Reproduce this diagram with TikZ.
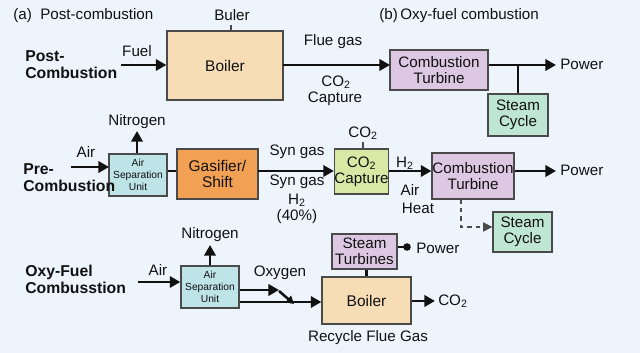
\documentclass[tikz,border=0pt]{standalone}
\usepackage{fontspec}
\setmainfont{Liberation Sans}
\usetikzlibrary{arrows.meta}
\definecolor{bgc}{HTML}{EEF4FC}
\definecolor{tanc}{HTML}{F7DDB6}
\definecolor{lavc}{HTML}{DDC8E3}
\definecolor{mintc}{HTML}{BFE5D3}
\definecolor{cyanc}{HTML}{BEE4E8}
\definecolor{orgc}{HTML}{F2A154}
\definecolor{grnc}{HTML}{D8E9A6}
\definecolor{edgec}{HTML}{4A4A4A}
\definecolor{inkc}{HTML}{111111}
\newcommand\cotwo{CO\textsubscript{2}}
\newcommand\htwo{H\textsubscript{2}}
\begin{document}
\begin{tikzpicture}[x=0.025cm,y=-0.025cm,
  font=\fontsize{10.8}{12}\selectfont, text=inkc,
  box/.style={draw=edgec, line width=0.9pt, inner sep=0pt, align=center,
    font=\fontsize{10.8}{11.4}\selectfont},
  smallbox/.style={box, font=\fontsize{7.3}{8.5}\selectfont},
  lbl/.style={inner sep=0pt, align=center},
  head/.style={inner sep=0pt, align=left, anchor=west, font=\fontsize{11.2}{12.1}\selectfont\bfseries},
  conn/.style={draw=inkc, line width=1.8pt, -{Triangle[length=7.5pt,width=8pt]}},
  plain/.style={draw=inkc, line width=1.8pt},
  tick/.style={draw=edgec, line width=1pt},
  dashconn/.style={draw=edgec, line width=0.9pt, dashed, -{Triangle[length=6.5pt,width=6.5pt]}}
]
\fill[bgc] (0,0) rectangle (640,353);
\useasboundingbox (0,0) rectangle (640,353);

% ---------- titles ----------
\node[lbl, anchor=west] (ta) at (13,16) {(a)\ \ Post-combustion};
\node[lbl, anchor=west] (tb) at (379,16) {(b)\,Oxy-fuel combustion};

% ---------- row 1 ----------
\node[head] (h1) at (25,65) {Post-\\Combustion};
\node[box, fill=tanc, minimum width=82.5pt, minimum height=49.1pt, font=\fontsize{11}{12}\selectfont] (boiler1) at (225,65.5) {Boiler};
\node[box, fill=lavc, minimum width=69.7pt, minimum height=28.5pt] (ct1) at (439,70) {Combustion\\Turbine};
\node[box, fill=mintc, minimum width=42.7pt, minimum height=29.9pt] (sc1) at (518,115) {Steam\\Cycle};
\node[lbl] (buler) at (232,15) {Buler};
\coordinate (bulerT) at (231,25);
\node[lbl] (fuel) at (137,51) {Fuel};
\coordinate (fuelS) at (121,65);
\coordinate (flueA) at (283,65);
\coordinate (flueB) at (390,65);
\coordinate (pow1T) at (556,65);
\coordinate (scJ) at (518,65);
\node[lbl] (flue) at (333,42) {Flue gas};
\node[lbl] (cap1a) at (336,82) {\cotwo};
\node[lbl] (cap1b) at (335,99) {Capture};
\node[lbl, anchor=west] (pow1) at (560,64) {Power};

\draw[tick] (boiler1.north -| bulerT) -- (bulerT);
\draw[conn] (fuelS) -- (boiler1.west |- fuelS);
\draw[conn] (flueA) -- (flueB);
\draw[conn] (flueA -| ct1.east) -- (pow1T);
\draw[plain] (scJ) -- (sc1.north);

% ---------- row 2 ----------
\node[smallbox, fill=cyanc, minimum width=41.3pt, minimum height=29.9pt] (asu2) at (138,175) {Air\\Separation\\Unit};
\node[head] (h2) at (23,178) {Pre-\\Combustion};
\node[box, fill=orgc, minimum width=57.6pt, minimum height=35.6pt, font=\fontsize{11}{11.6}\selectfont] (gas) at (217.5,174) {Gasifier/\\Shift};
\node[box, fill=grnc, minimum width=37.7pt, minimum height=32pt] (cap2) at (361.5,171.5) {\cotwo\\Capture};
\node[box, fill=lavc, minimum width=58.3pt, minimum height=32.7pt] (ct2) at (473,176) {Combustion\\Turbine};
\node[box, fill=mintc, minimum width=42pt, minimum height=28.5pt] (sc2) at (522.5,232) {Steam\\Cycle};

\node[lbl] (nit2) at (137,122) {Nitrogen};
\coordinate (nit2T) at (137,131);
\node[lbl] (air2) at (86,152) {Air};
\coordinate (air2S) at (71,167);
\coordinate (air2T) at (109,167);
\coordinate (syn) at (258,171);
\node[lbl] (syn1) at (297,152) {Syn gas};
\node[lbl] (syn2) at (297,182) {Syn gas};
\node[lbl] (h2a) at (297,200) {\htwo};
\node[lbl] (pct) at (297,217) {(40\%)};
\node[lbl] (co2top) at (363,133) {\cotwo};
\coordinate (co2tick) at (363,142);
\node[lbl] (h2b) at (405,163) {\htwo};
\node[lbl] (airh) at (410,190) {Air};
\node[lbl] (heat) at (418,208) {Heat};
\coordinate (pow2T) at (556,171);
\node[lbl, anchor=west] (pow2) at (560,170) {Power};
\coordinate (dashA) at (461,199);
\coordinate (dashB) at (461,227);

\draw[conn] (asu2.north -| nit2T) -- (nit2T);
\draw[conn] (air2S) -- (air2T);
\draw[plain] (asu2.east |- syn) -- (gas.west |- syn);
\draw[conn] (syn) -- (cap2.west |- syn);
\draw[tick] (cap2.north -| co2tick) -- (co2tick);
\draw[conn] (cap2.east |- syn) -- (ct2.west |- syn);
\draw[conn] (ct2.east |- syn) -- (pow2T);
\draw[dashconn] (ct2.south -| dashA) -- (dashB) -- (sc2.west |- dashB);

% ---------- row 3 ----------
\node[head] (h3) at (25,279) {Oxy-Fuel\\Combusstion};
\node[smallbox, fill=cyanc, minimum width=41.3pt, minimum height=29.9pt] (asu3) at (210,287) {Air\\Separation\\Unit};
\node[box, fill=tanc, minimum width=63.3pt, minimum height=33.4pt, font=\fontsize{11}{12}\selectfont] (boiler3) at (366.5,300.5) {Boiler};
\node[box, fill=lavc, minimum width=46.2pt, minimum height=24.9pt] (st) at (364.5,251.5) {Steam\\Turbines};

\node[lbl] (nit3) at (210,235) {Nitrogen};
\coordinate (nit3T) at (210,245);
\node[lbl] (air3) at (158,270) {Air};
\coordinate (air3S) at (138,282);
\node[lbl] (oxy) at (280,273) {Oxygen};
\coordinate (oxyT) at (279,290);
\coordinate (diagA) at (279,291);
\coordinate (diagB) at (294,304);
\coordinate (recy) at (239,302);
\coordinate (dot) at (407,247);
\node[lbl, anchor=west] (pow3) at (416,248) {Power};
\coordinate (co2T) at (435,301);
\node[lbl, anchor=west] (co2b) at (438,301) {\cotwo};
\node[lbl] (rfg) at (368,338) {Recycle Flue Gas};

\draw[conn] (asu3.north -| nit3T) -- (nit3T);
\draw[conn] (air3S) -- (asu3.west |- air3S);
\draw[conn] (asu3.east |- oxyT) -- (oxyT);
\draw[draw=inkc, line width=1.8pt, -{Triangle[length=5.5pt,width=6pt]}] (diagA) -- (diagB);
\draw[conn] (asu3.east |- recy) -- (boiler3.west |- recy);
\draw[plain] (st.south -| boiler3.north) -- (boiler3.north);
\draw[plain] (st.east |- dot) -- (dot);
\fill[inkc] (dot) circle (3.8);
\draw[conn] (boiler3.east |- co2T) -- (co2T);
\end{tikzpicture}
\end{document}
